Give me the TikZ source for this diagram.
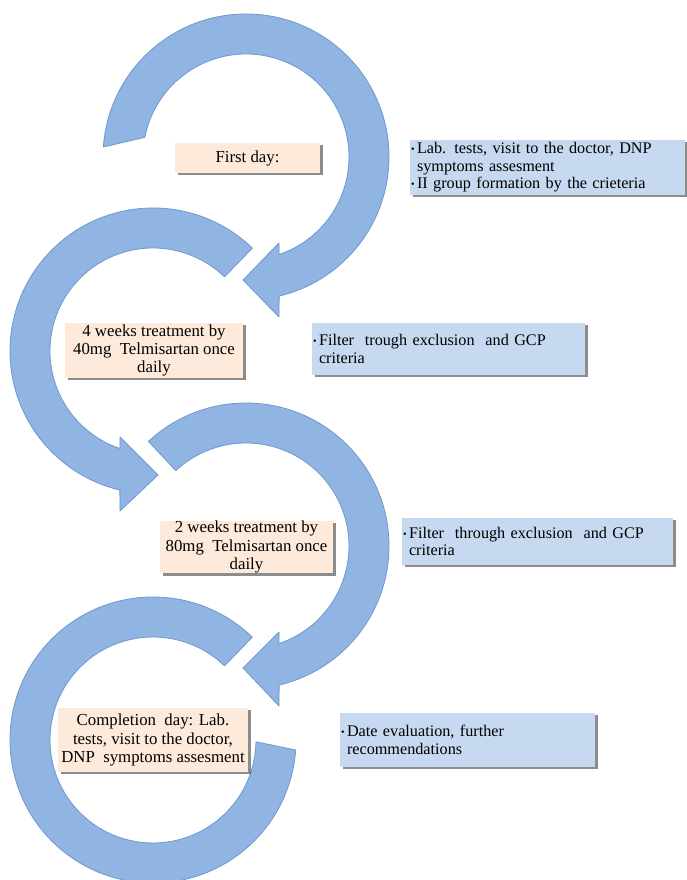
\documentclass[tikz,border=0pt]{standalone}
\usepackage{fontspec}
\setmainfont{Liberation Serif}
\usetikzlibrary{shadows}
\definecolor{arrowfill}{RGB}{144,181,226}
\definecolor{arrowedge}{RGB}{112,152,206}
\definecolor{peach}{RGB}{253,234,218}
\definecolor{paleblue}{RGB}{198,217,241}
\newcommand\bul{\makebox[6pt][l]{\raisebox{1pt}{\fontsize{10}{10}\selectfont\textbullet}}}
\newcommand\ind{\hspace*{6pt}}
\begin{document}
\begin{tikzpicture}[x=1pt,y=1pt,
  arrowshape/.style={fill=arrowfill, draw=arrowedge, line width=0.8pt, line join=round},
  stagebox/.style={fill=peach, align=center, inner sep=0pt,
    font=\fontsize{16.8}{18.4}\selectfont,
    drop shadow={shadow xshift=2.5pt, shadow yshift=-2.5pt, fill=black, opacity=0.45}},
  notebox/.style={fill=paleblue, align=left, inner xsep=1pt, inner ysep=0pt,
    font=\fontsize{16.2}{17.6}\selectfont,
    drop shadow={shadow xshift=2.5pt, shadow yshift=-2.5pt, fill=black, opacity=0.45}}]
\useasboundingbox (0,0) rectangle (687,880);
\clip (0,0) rectangle (687,880);

\coordinate (c1) at (246,723);
\coordinate (c2) at (153,529);
\coordinate (c3) at (246,334);
\coordinate (c4) at (153,140);

% arrow 4 (no head)
\begin{scope}[shift={(c4)}]
\draw[arrowshape] (46:143) arc[start angle=46,end angle=356,radius=143]
  -- (359:103) arc[start angle=359,end angle=46,radius=103] -- cycle;
\end{scope}
% arrow 3
\begin{scope}[shift={(c3)}]
\draw[arrowshape] (133:143) arc[start angle=133,end angle=-76.6,radius=143]
  -- (33,-160) -- (-3,-122) -- (33,-86)
  -- (-71.3:103) arc[start angle=-71.3,end angle=133,radius=103] -- cycle;
\end{scope}
% arrow 2
\begin{scope}[shift={(c2)}]
\draw[arrowshape] (46:143) arc[start angle=46,end angle=256.6,radius=143]
  -- (-33,-160) -- (5,-124) -- (-33,-86)
  -- (251.3:103) arc[start angle=251.3,end angle=46,radius=103] -- cycle;
\end{scope}
% arrow 1
\begin{scope}[shift={(c1)}]
\draw[arrowshape] (176:143) arc[start angle=176,end angle=-76.6,radius=143]
  -- (33,-160) -- (-3,-123) -- (33,-86)
  -- (-71.3:103) arc[start angle=-71.3,end angle=169,radius=103] -- cycle;
\end{scope}

\node[stagebox, minimum width=145pt, minimum height=30pt] (s1) at (247.5,722) {First day:};
\node[notebox, minimum width=275pt, minimum height=55pt, text width=273pt] (n1) at (547.5,712.5)
  {\bul Lab. tests, visit to the doctor, DNP\\\ind symptoms assesment\\\bul II group formation\ by the crieteria};

\node[stagebox, minimum width=178pt, minimum height=55pt] (s2) at (154,529.5)
  {4 weeks treatment by\\40mg\ \ Telmisartan once\\daily};
\node[notebox, minimum width=273pt, minimum height=52pt, text width=271pt] (n2) at (448.5,531)
  {\bul Filter\ \ trough exclusion\ \ and GCP\\\ind criteria};

\node[stagebox, minimum width=173pt, minimum height=50pt] (s3) at (246.5,333)
  {2 weeks treatment by\\80mg\ \ Telmisartan once\\daily};
\node[notebox, minimum width=271pt, minimum height=47pt, text width=269pt] (n3) at (537.5,338.5)
  {\bul Filter\ \ through exclusion\ \ and GCP\\\ind criteria};

\node[stagebox, minimum width=190pt, minimum height=64pt] (s4) at (153,140)
  {Completion\ \ day: Lab.\\tests, visit to the doctor,\\DNP\ \ symptoms assesment};
\node[notebox, minimum width=255pt, minimum height=54pt, text width=253pt] (n4) at (467.5,140)
  {\bul Date evaluation, further\\\ind recommendations};
\end{tikzpicture}
\end{document}
